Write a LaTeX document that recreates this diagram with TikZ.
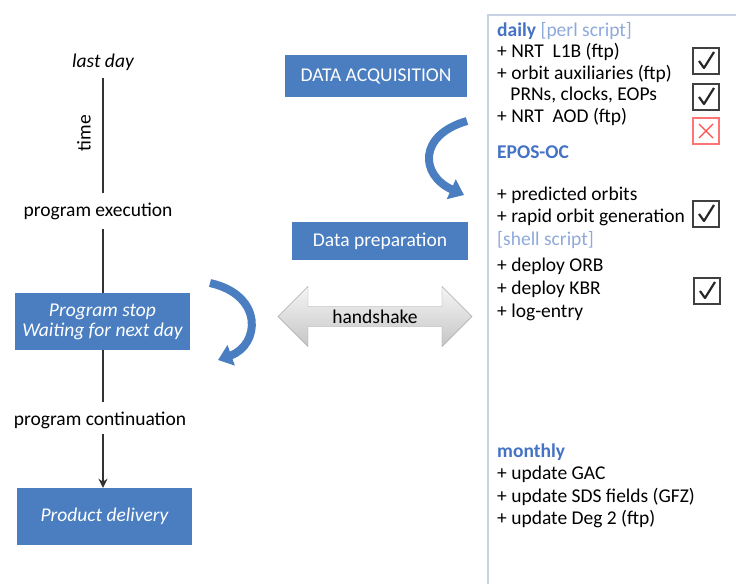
\documentclass[tikz,border=0pt]{standalone}
\usepackage{fontspec}
\setmainfont{Carlito}
\usepackage{tikz}
\usetikzlibrary{calc}
\usetikzlibrary{arrows.meta}
\usetikzlibrary{shapes.arrows}
\definecolor{boxblue}{RGB}{74,126,193}
\definecolor{headblue}{RGB}{68,114,196}
\definecolor{paleblue}{RGB}{142,169,219}
\definecolor{panelline}{RGB}{200,210,228}
\tikzset{
	% blue process boxes, the two loop arrows and the entries of the list
	blue box/.style={rectangle,fill=boxblue,text=white,align=center,inner sep=2},
	loop arrow/.style={draw=boxblue,line width=8,-{Triangle[length=14,width=21]}},
	time line/.style={draw=black!80,line width=1.8},
	list entry/.style={anchor=west,inner sep=0},
	tick box/.style={draw=black!75,line width=1.3,minimum size=26,inner sep=0}
}

\begin{document}
\begin{tikzpicture}[x=1pt,y=-1pt,font=\fontsize{19.5}{23}\selectfont]
	% macros for the check boxes beside the list
	\newcommand{\donebox}[2]{\node[tick box](#1)at(#2){};
		\draw[black!85,line width=2.2,line join=round]($(#1)+(-7,0)$)--($(#1)+(-2,7)$)--($(#1)+(8,-9)$);}
	\newcommand{\failbox}[2]{\node[tick box,draw=red!55](#1)at(#2){};
		\draw[red!70,line width=1.3]($(#1)+(-7,-7)$)--($(#1)+(7,7)$) ($(#1)+(-7,7)$)--($(#1)+(7,-7)$);}
	\useasboundingbox (0,0) rectangle (736,584);
	
	% time line on the left
	\node(lastday)at(103,62){\itshape last day};
	\node[rotate=90](time)at(84,133){time};
	\node(exec)at(98,211){program execution};
	\node[blue box,minimum width=175,minimum height=57](stop)at(102.5,321.5){\itshape Program stop\\[-3pt]\itshape Waiting for next day};
	\node(cont)at(100,420){program continuation};
	\node[blue box,minimum width=175,minimum height=57](delivery)at(104.5,516.5){\itshape Product delivery};
	
	\draw[time line,shorten <=4,shorten >=6](lastday)--(lastday|-exec.north);
	\draw[time line,shorten <=6](lastday|-exec.south)--(lastday|-stop.north);
	\draw[time line,shorten >=6](lastday|-stop.south)--(lastday|-cont.north);
	\draw[time line,-{Stealth[length=9,width=9]},shorten <=2](lastday|-cont.south)--(lastday|-delivery.north);
	
	% loop beside the waiting box
	\coordinate(stop loop a)at(210,283);
	\coordinate(stop loop b)at(218,360);
	\draw[loop arrow](stop loop a)..controls(264,295)and(260,345)..(stop loop b);
	
	% middle column
	\node[blue box,minimum width=182,minimum height=42](acq)at(376,76){DATA ACQUISITION};
	\node[blue box,minimum width=176,minimum height=38](prep)at(380,241){Data preparation};
	\coordinate(acq loop a)at(467,121);
	\coordinate(acq loop b)at(464,195);
	\draw[loop arrow](acq loop a)..controls(418,135)and(420,175)..(acq loop b);
	
	\node[double arrow,double arrow head extend=20,minimum height=194,inner xsep=5,inner ysep=3,
		draw=gray!70,top color=gray!8,bottom color=gray!45](handshake)at(375,316.5){handshake};
	
	% list of tasks on the right
	\draw[panelline,line width=1.2](488,584)--(488,15)--(736,15);
	\node[list entry](daily)at(497,31){\textcolor{headblue}{\bfseries daily} \textcolor{paleblue}{[perl script]}};
	\node[list entry](l1b)at(497,52){+ NRT\ \ L1B (ftp)};
	\node[list entry](aux)at(497,74){+ orbit auxiliaries (ftp)};
	\node[list entry](prn)at(497,95){\ \ \ PRNs, clocks, EOPs};
	\node[list entry](aod)at(497,117){+ NRT\ \ AOD (ftp)};
	\node[list entry,text=headblue,font=\fontsize{19.5}{23}\selectfont\bfseries](epos)at(497,152){EPOS-OC};
	\node[list entry](pred)at(497,195){+ predicted orbits};
	\node[list entry](rapid)at(497,217){+ rapid orbit generation};
	\node[list entry,text=paleblue](shell)at(497,240){[shell script]};
	\node[list entry](orb)at(497,266){+ deploy ORB};
	\node[list entry](kbr)at(497,289){+ deploy KBR};
	\node[list entry](log)at(497,312){+ log-entry};
	\node[list entry,text=headblue,font=\fontsize{19.5}{23}\selectfont\bfseries](monthly)at(497,452){monthly};
	\node[list entry](gac)at(497,474){+ update GAC};
	\node[list entry](sds)at(497,497){+ update SDS fields (GFZ)};
	\node[list entry](deg)at(497,519){+ update Deg 2 (ftp)};
	
	\donebox{l1b box}{706,61}
	\donebox{aux box}{706,97}
	\failbox{aod box}{706,131}
	\donebox{rapid box}{706,214}
	\donebox{kbr box}{707,291}
\end{tikzpicture}
\end{document}
